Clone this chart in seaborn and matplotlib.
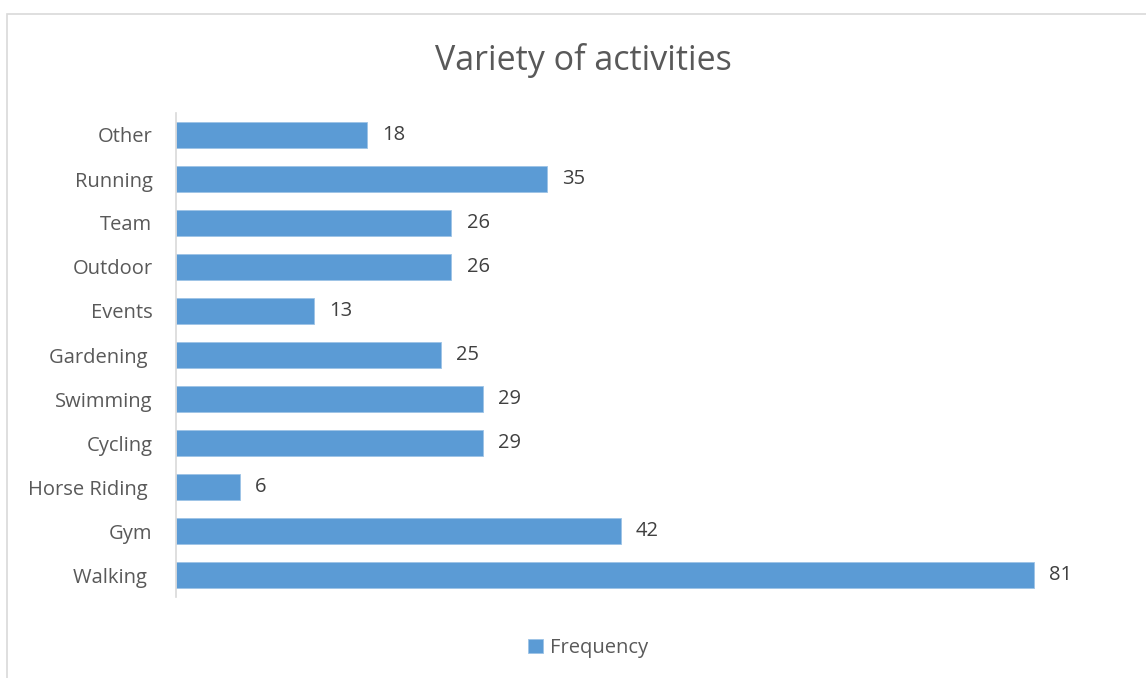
import matplotlib
matplotlib.use("Agg")
import matplotlib.pyplot as plt
import seaborn as sns
import pandas as pd
from matplotlib.patches import Rectangle

categories = ["Other", "Running", "Team", "Outdoor", "Events", "Gardening ",
              "Swimming", "Cycling", "Horse Riding ", "Gym", "Walking "]
values = [18, 35, 26, 26, 13, 25, 29, 29, 6, 42, 81]
series_name = "Frequency"
title = "Variety of activities"

sns.set_theme(style="white")
plt.rcParams['font.family'] = ['Open Sans', 'DejaVu Sans']

df = pd.DataFrame({"Activity": categories, series_name: values})

fig = plt.figure(figsize=(11.46, 6.78), dpi=100)
ax = fig.add_axes([176/1146, 81/678, 953/1146, 484/678])

bar_color = "#5B9BD5"
sns.barplot(data=df, y="Activity", x=series_name, order=categories, color=bar_color,
            width=0.6, orient="h", ax=ax, label=series_name, saturation=1,
            edgecolor="#9DC3E6", linewidth=0.6)

ax.set_xlim(0, 90)
ax.set_ylim(len(categories) - 0.5, -0.5)
ax.set_xlabel("")
ax.set_ylabel("")
ax.set_xticks([])
ax.tick_params(axis="y", length=0, pad=17, labelsize=14.5, labelcolor="#595959")
for s in ["top", "right", "bottom"]:
    ax.spines[s].set_visible(False)
ax.spines["left"].set_color("#D9D9D9")
ax.spines["left"].set_linewidth(1.2)

for cont in ax.containers:
    ax.bar_label(cont, padding=11, fontsize=14.5, color="#404040")

if ax.get_legend() is not None:
    ax.get_legend().remove()
handles, labels = ax.get_legend_handles_labels()
fig.legend(handles, labels, loc="center", bbox_to_anchor=(588/1146, 30/678),
           frameon=False, fontsize=14.5, handlelength=0.75, handleheight=0.75,
           handletextpad=0.35, labelcolor="#595959")

fig.text(583/1146, 1 - 60/678, title, ha="center", va="center", fontsize=24.5,
         color="#595959")

# chart area border
fig.patches.append(Rectangle((7/1146, -0.1), 1.2, (678 - 14)/678 + 0.1,
                             transform=fig.transFigure, fill=False,
                             edgecolor="#D9D9D9", linewidth=1.2))

fig.savefig("out.png", dpi=100, facecolor="white")
